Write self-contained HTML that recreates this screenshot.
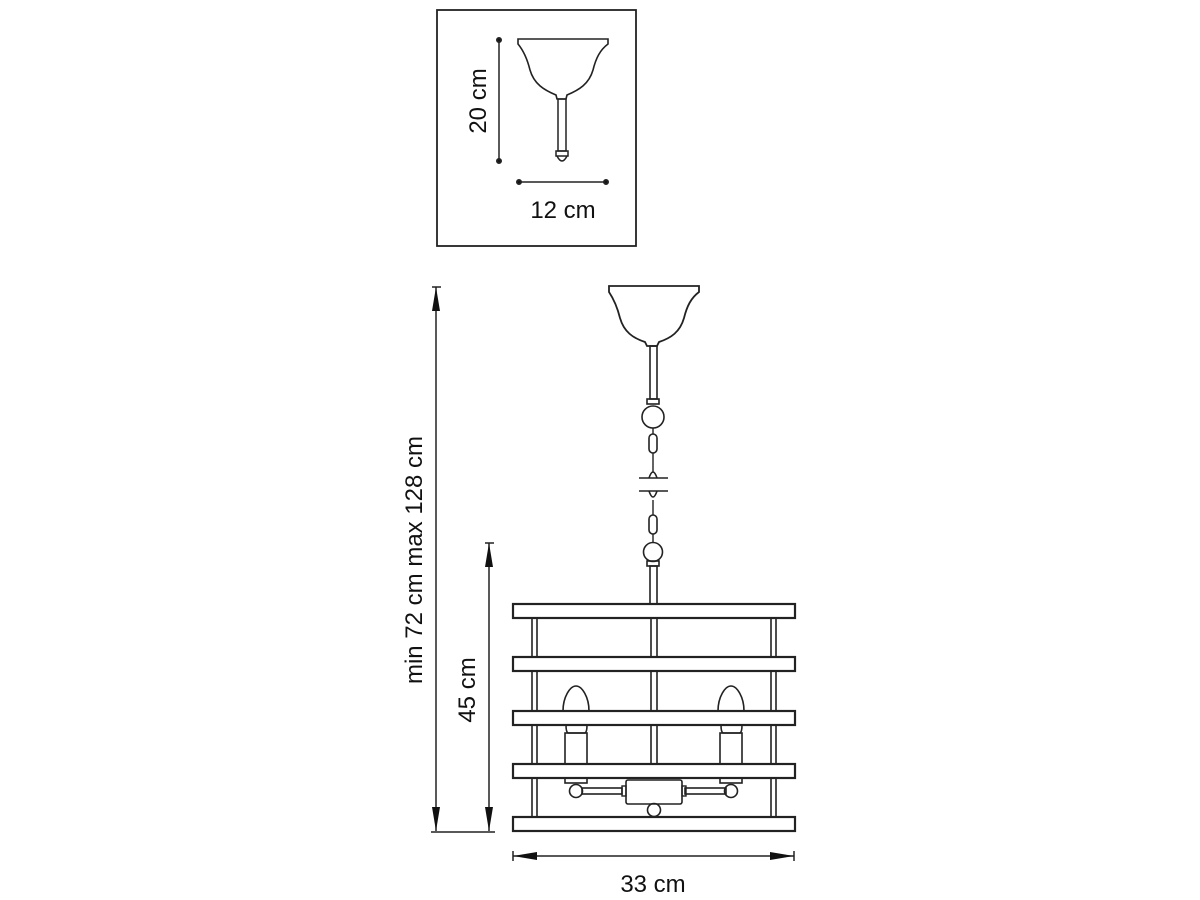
<!DOCTYPE html>
<html><head><meta charset="utf-8"><style>
html,body{margin:0;padding:0;background:#fff;width:1200px;height:900px;overflow:hidden}
svg{display:block}
text{font-family:"Liberation Sans",sans-serif;fill:#111}
</style></head><body>
<svg width="1200" height="900" viewBox="0 0 1200 900" xmlns="http://www.w3.org/2000/svg">
<defs>
<marker id="a" viewBox="0 0 24 10" refX="24" refY="5" markerWidth="24" markerHeight="10" orient="auto-start-reverse" markerUnits="userSpaceOnUse"><path d="M0,1 L24,5 L0,9z" fill="#111"/></marker>
</defs>
<g stroke="#222" stroke-width="2" fill="none">
<rect x="437" y="10" width="199" height="236" stroke-width="1.8"/>
<line x1="499" y1="40" x2="499" y2="161" stroke-width="1.5"/>
<circle cx="499" cy="40" r="2" fill="#111"/><circle cx="499" cy="161" r="2" fill="#111"/>
<line x1="519" y1="182" x2="606" y2="182" stroke-width="1.5"/>
<circle cx="519" cy="182" r="2" fill="#111"/><circle cx="606" cy="182" r="2" fill="#111"/>
<path d="M518,39 L608,39 L608,44 C600,50 596,58 593,70 C589,84 579,90 567,95 L566,99 L557,99 L556,95 C544,90 534,84 530,70 C527,58 523,50 518,44 Z" stroke-width="1.6"/>
<rect x="558" y="99" width="8" height="52" stroke-width="1.5"/>
<rect x="556" y="151" width="12" height="5" stroke-width="1.5"/>
<path d="M557,156 Q562,166 567,156" stroke-width="1.5"/>

<line x1="432" y1="287" x2="441" y2="287" stroke-width="1.5"/>
<line x1="436" y1="287" x2="436" y2="831" stroke-width="1.5" marker-start="url(#a)" marker-end="url(#a)"/>
<line x1="485" y1="543" x2="494" y2="543" stroke-width="1.5"/>
<line x1="489" y1="543" x2="489" y2="831" stroke-width="1.5" marker-start="url(#a)" marker-end="url(#a)"/>
<line x1="431" y1="832" x2="495" y2="832" stroke-width="1.5"/>
<line x1="513" y1="851" x2="513" y2="861" stroke-width="1.5"/>
<line x1="794" y1="851" x2="794" y2="861" stroke-width="1.5"/>
<line x1="513" y1="856" x2="794" y2="856" stroke-width="1.5" marker-start="url(#a)" marker-end="url(#a)"/>

<path d="M609,286 L699,286 L699,292 C691,298 687,306 684,318 C680,332 671,338 659,342 L657,346 L647,346 L645,342 C633,338 624,332 620,318 C617,306 613,298 609,292 Z" stroke-width="1.8"/>
<rect x="650" y="346" width="7" height="53" stroke-width="1.6"/>
<rect x="647" y="399" width="12" height="5" stroke-width="1.6"/>
<circle cx="653" cy="417" r="11" stroke-width="1.6"/>
<line x1="653" y1="428" x2="653" y2="434" stroke-width="1.4"/>
<rect x="649" y="434" width="8" height="19" rx="4" stroke-width="1.6"/>
<line x1="653" y1="453" x2="653" y2="472" stroke-width="1.4"/>
<path d="M649,478 Q653,466 657,478" stroke-width="1.6"/>
<line x1="639" y1="478" x2="668" y2="478" stroke-width="1.6"/>
<line x1="639" y1="491" x2="668" y2="491" stroke-width="1.6"/>
<path d="M649,491 Q653,503 657,491" stroke-width="1.6"/>
<line x1="653" y1="500" x2="653" y2="515" stroke-width="1.4"/>
<rect x="649" y="515" width="8" height="19" rx="4" stroke-width="1.6"/>
<line x1="653" y1="534" x2="653" y2="543" stroke-width="1.4"/>
<circle cx="653" cy="552" r="9.5" stroke-width="1.6"/>
<rect x="647" y="561" width="12" height="5" stroke-width="1.6"/>
<rect x="650" y="566" width="7" height="38" stroke-width="1.6"/>

<rect x="532" y="618" width="5" height="199" stroke-width="1.6"/>
<rect x="651" y="618" width="6" height="146" stroke-width="1.6"/>
<rect x="771" y="618" width="5" height="199" stroke-width="1.6"/>

<path d="M563,711 C563,697 570,686 576,686 C582,686 589,697 589,711" stroke-width="1.6"/>
<path d="M566,725 Q566,732 568,733 L585,733 Q587,732 587,725" stroke-width="1.6"/>
<rect x="565" y="733" width="22" height="31" stroke-width="1.6"/>
<path d="M718,711 C718,697 725,686 731,686 C737,686 744,697 744,711" stroke-width="1.6"/>
<path d="M721,725 Q721,732 723,733 L740,733 Q742,732 742,725" stroke-width="1.6"/>
<rect x="720" y="733" width="22" height="31" stroke-width="1.6"/>
<rect x="565" y="778" width="22" height="5" stroke-width="1.6"/>
<rect x="720" y="778" width="22" height="5" stroke-width="1.6"/>
<circle cx="576" cy="791" r="6.5" stroke-width="1.6"/>
<circle cx="731" cy="791" r="6.5" stroke-width="1.6"/>
<rect x="582" y="788" width="40" height="6" stroke-width="1.6"/>
<rect x="685" y="788" width="41" height="6" stroke-width="1.6"/>
<rect x="622" y="786" width="4" height="10" stroke-width="1.4"/>
<rect x="682" y="786" width="4" height="10" stroke-width="1.4"/>
<rect x="626" y="780" width="56" height="24" rx="2" stroke-width="1.6"/>
<circle cx="654" cy="810" r="6.5" stroke-width="1.6"/>

<g fill="#fff" stroke-width="2.2">
<rect x="513" y="604" width="282" height="14"/>
<rect x="513" y="657" width="282" height="14"/>
<rect x="513" y="711" width="282" height="14"/>
<rect x="513" y="764" width="282" height="14"/>
<rect x="513" y="817" width="282" height="14"/>
</g>
</g>

<text x="563" y="218" font-size="24" text-anchor="middle">12 cm</text>
<text transform="translate(486,101) rotate(-90)" font-size="24" text-anchor="middle">20 cm</text>
<text transform="translate(422,560) rotate(-90)" font-size="24" text-anchor="middle">min 72 cm max 128 cm</text>
<text transform="translate(475,690) rotate(-90)" font-size="24" text-anchor="middle">45 cm</text>
<text x="653" y="892" font-size="24" text-anchor="middle">33 cm</text>
</svg>
</body></html>
